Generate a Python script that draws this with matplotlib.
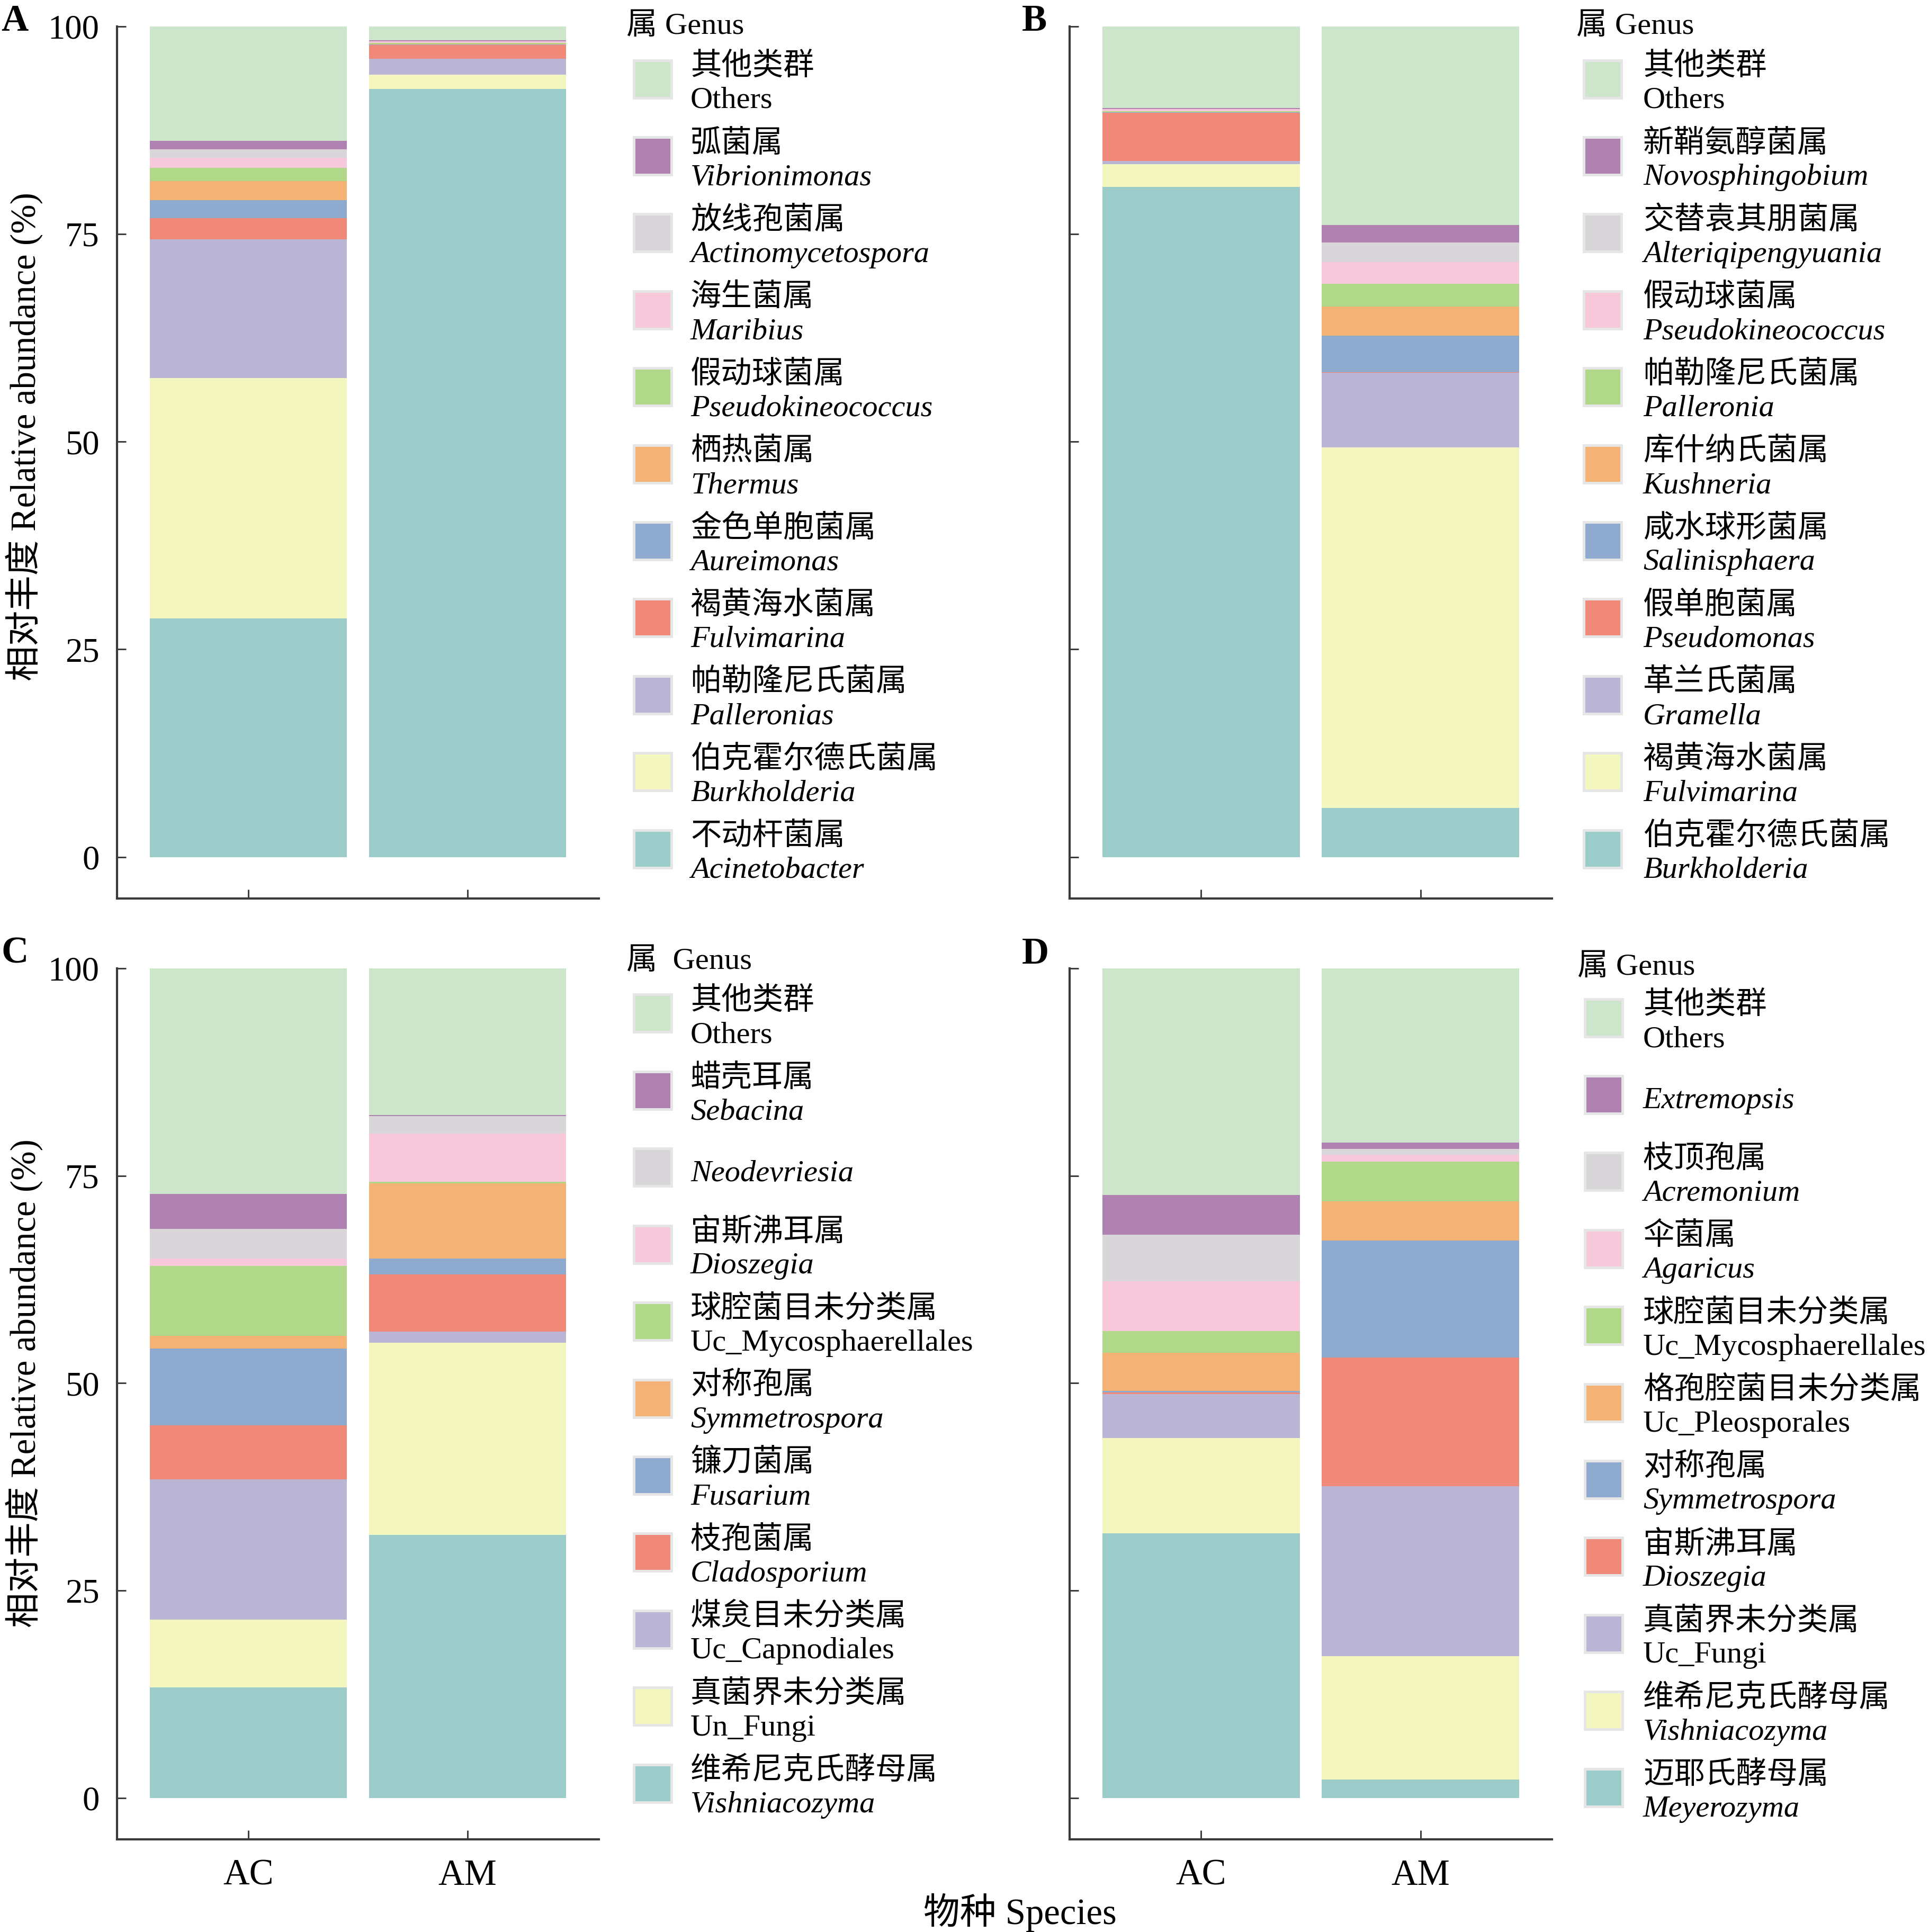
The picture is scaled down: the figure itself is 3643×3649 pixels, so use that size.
import matplotlib
matplotlib.use('Agg')
import matplotlib.pyplot as plt
from matplotlib.patches import Rectangle
import numpy as np

plt.rcParams['font.family'] = ['Liberation Serif', 'Noto Sans CJK SC']

samples = ['AC', 'AM']
colors = ['#CCE5CB', '#B082B1', '#D8D6D9', '#F7C7DA', '#B1D788', '#F4B375',
          '#8EABCF', '#F08977', '#BBB5D5', '#F3F6BF', '#9CCCC9']

# ---- Panel A (bacteria, genus) : legend order top -> bottom ----
genus_cn_A = ['其他类群', '弧菌属', '放线孢菌属', '海生菌属', '假动球菌属', '栖热菌属',
              '金色单胞菌属', '褐黄海水菌属', '帕勒隆尼氏菌属', '伯克霍尔德氏菌属', '不动杆菌属']
genus_lat_A = ['Others', 'Vibrionimonas', 'Actinomycetospora', 'Maribius', 'Pseudokineococcus',
               'Thermus', 'Aureimonas', 'Fulvimarina', 'Palleronias', 'Burkholderia', 'Acinetobacter']
AC_A = [13.8, 1.0, 1.0, 1.2, 1.6, 2.3, 2.2, 2.5, 16.7, 29.0, 28.7]
AM_A = [1.68, 0.09, 0.03, 0.17, 0.13, 0.04, 0.08, 1.66, 1.9, 1.72, 92.5]

# ---- Panel B ----
genus_cn_B = ['其他类群', '新鞘氨醇菌属', '交替袁其朋菌属', '假动球菌属', '帕勒隆尼氏菌属', '库什纳氏菌属',
              '咸水球形菌属', '假单胞菌属', '革兰氏菌属', '褐黄海水菌属', '伯克霍尔德氏菌属']
genus_lat_B = ['Others', 'Novosphingobium', 'Alteriqipengyuania', 'Pseudokineococcus', 'Palleronia',
               'Kushneria', 'Salinisphaera', 'Pseudomonas', 'Gramella', 'Fulvimarina', 'Burkholderia']
AC_B = [9.81, 0.13, 0.02, 0.26, 0.085, 0.03, 0.08, 5.8, 0.38, 2.7, 80.7]
AM_B = [23.9, 2.1, 2.4, 2.6, 2.7, 3.5, 4.4, 0.1, 9.0, 43.4, 5.9]

# ---- Panel C (fungi) ----
genus_cn_C = ['其他类群', '蜡壳耳属', '', '宙斯沸耳属', '球腔菌目未分类属', '对称孢属',
              '镰刀菌属', '枝孢菌属', '煤炱目未分类属', '真菌界未分类属', '维希尼克氏酵母属']
genus_lat_C = ['Others', 'Sebacina', 'Neodevriesia', 'Dioszegia', 'Uc_Mycosphaerellales',
               'Symmetrospora', 'Fusarium', 'Cladosporium', 'Uc_Capnodiales', 'Un_Fungi', 'Vishniacozyma']
AC_C = [27.2, 4.2, 3.6, 0.9, 8.4, 1.5, 9.3, 6.5, 16.9, 8.2, 13.3]
AM_C = [17.7, 0.1, 2.1, 5.8, 0.2, 9.1, 1.9, 6.9, 1.3, 23.2, 31.7]

# ---- Panel D ----
genus_cn_D = ['其他类群', '', '枝顶孢属', '伞菌属', '球腔菌目未分类属', '格孢腔菌目未分类属',
              '对称孢属', '宙斯沸耳属', '真菌界未分类属', '维希尼克氏酵母属', '迈耶氏酵母属']
genus_lat_D = ['Others', 'Extremopsis', 'Acremonium', 'Agaricus', 'Uc_Mycosphaerellales',
               'Uc_Pleosporales', 'Symmetrospora', 'Dioszegia', 'Uc_Fungi', 'Vishniacozyma', 'Meyerozyma']
AC_D = [27.32, 4.8, 5.6, 6.0, 2.6, 4.6, 0.19, 0.19, 5.3, 11.5, 31.9]
AM_D = [20.98, 0.77, 0.7, 0.85, 4.8, 4.7, 14.1, 15.5, 20.5, 14.9, 2.2]

yticks = [0, 25, 50, 75, 100]

W, H = 3643, 3649
DPI = 300
fig = plt.figure(figsize=(W / DPI, H / DPI), dpi=DPI)


def fx(px):
    return px / W


def fy(py):
    return 1 - py / H


def make_ax(left, right, top, bottom):
    return fig.add_axes([fx(left), fy(bottom), fx(right) - fx(left), fy(top) - fy(bottom)])


SPINE = '#3a3a3a'
FS_TICK = 15.5
FS_LEG = 14


def draw_panel(ax, ac, am, ylabels_on, xlabels_on):
    vals = np.array([ac, am]).T
    bottoms = np.zeros(2)
    x = np.arange(len(samples))
    for i in reversed(range(len(vals))):
        ax.bar(x, vals[i], 0.9, bottom=bottoms, color=colors[i], linewidth=0)
        bottoms += vals[i]
    ax.set_xlim(-0.6, 1.6)
    ax.set_ylim(-5, 100)
    ax.set_yticks(yticks)
    ax.set_xticks(x)
    for s in ['top', 'right']:
        ax.spines[s].set_visible(False)
    for s in ['left', 'bottom']:
        ax.spines[s].set_linewidth(1.0)
        ax.spines[s].set_color(SPINE)
    ax.tick_params(axis='both', direction='in', length=4.0, width=0.7, color=SPINE,
                   labelsize=FS_TICK, pad=8)
    ax.tick_params(axis='x', labelsize=16.5, pad=9)
    if ylabels_on:
        ax.set_yticklabels([str(v) for v in yticks])
    else:
        ax.set_yticklabels([])
    if xlabels_on:
        ax.set_xticklabels(samples)
    else:
        ax.set_xticklabels([])


def draw_legend(sw_x, txt_x, y_title_base, first_center, cn, lat, title):
    step = 145.4
    fig.text(fx(sw_x - 11), fy(y_title_base), title, fontsize=FS_LEG, ha='left', va='baseline')
    for i, (c, l) in enumerate(zip(cn, lat)):
        yc = first_center + i * step
        rect = Rectangle((fx(sw_x + 2.5), fy(yc + 35.5)), fx(71), 71 / H,
                         transform=fig.transFigure, facecolor=colors[i],
                         edgecolor='#e6e6e6', linewidth=1.2)
        fig.patches.append(rect)
        italic = not (l == 'Others' or l.startswith('Uc_') or l.startswith('Un_'))
        style = 'italic' if italic else 'normal'
        if c:
            fig.text(fx(txt_x), fy(yc - 8), c, fontsize=FS_LEG, ha='left', va='baseline')
            fig.text(fx(txt_x), fy(yc + 55), l, fontsize=FS_LEG, ha='left', va='baseline',
                     fontstyle=style)
        else:
            fig.text(fx(txt_x), fy(yc + 26), l, fontsize=FS_LEG, ha='left', va='baseline',
                     fontstyle=style)


axA = make_ax(221, 1131, 50, 1697)
axB = make_ax(2020, 2931, 50, 1697)
axC = make_ax(221, 1131, 1829, 3474)
axD = make_ax(2020, 2931, 1829, 3474)

draw_panel(axA, AC_A, AM_A, True, False)
draw_panel(axB, AC_B, AM_B, False, False)
draw_panel(axC, AC_C, AM_C, True, True)
draw_panel(axD, AC_D, AM_D, False, True)

draw_legend(1194, 1304, 64, 149, genus_cn_A, genus_lat_A, '属 Genus')
draw_legend(2988, 3103, 64, 149, genus_cn_B, genus_lat_B, '属 Genus')
draw_legend(1194, 1304, 1830, 1914, genus_cn_C, genus_lat_C, '属  Genus')
draw_legend(2990, 3103, 1841, 1922, genus_cn_D, genus_lat_D, '属 Genus')

# axis titles
ylab = '相对丰度 Relative abundance (%)'
fig.text(fx(46), fy(825), ylab, rotation=90, fontsize=16, ha='center', va='center')
fig.text(fx(46), fy(2613), ylab, rotation=90, fontsize=16, ha='center', va='center')
fig.text(fx(1926), fy(3634), '物种 Species', fontsize=16.5, ha='center', va='baseline')

# panel letters
for lab, px, py in [('A', 2, 8), ('B', 1930, 8), ('C', 2, 1768), ('D', 1930, 1770)]:
    fig.text(fx(px), fy(py), lab, fontsize=17, fontweight='bold', ha='left', va='top')

fig.savefig('out.png', dpi=DPI)
